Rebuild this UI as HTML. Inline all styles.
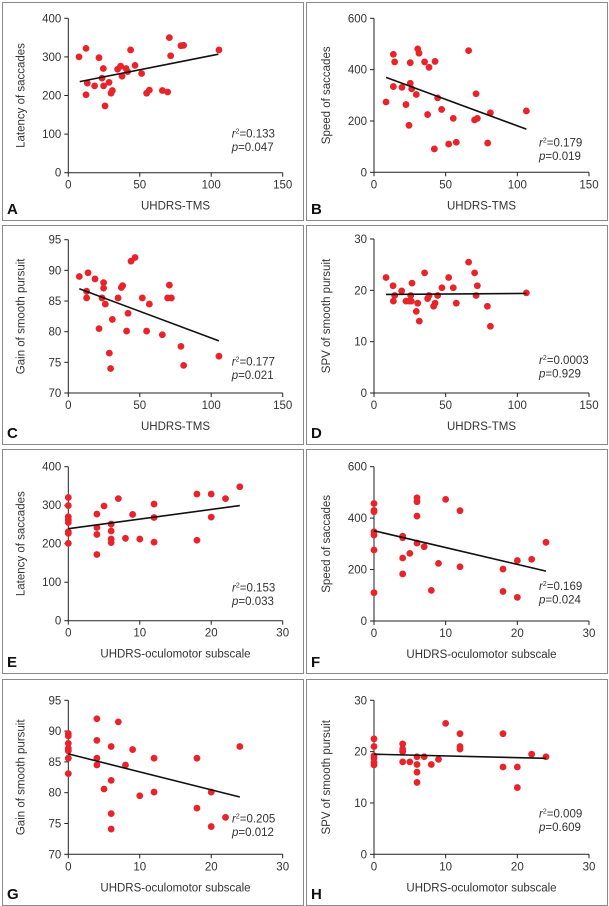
<!DOCTYPE html>
<html><head><meta charset="utf-8"><style>
body{margin:0;background:#fff;}
svg{display:block;font-family:"Liberation Sans",Arial,sans-serif;}
</style></head><body>
<svg id="fig" width="609" height="906" viewBox="0 0 609 906"></svg>
<script>
// Panel data
const tmsA=[7.5,12.4,13.3,12.4,18.4,21.5,23.6,24.5,24.7,25.7,28.5,29.9,30.8,34.5,36.6,37.6,40.4,41.5,43.6,46.7,51.3,54.8,56.7,65.8,69.5,70.7,71.6,78.8,80.7,105.4];
const latA=[300,322,232,202,225,298,245,270,225,173,234,206,213,268,276,250,270,262,318,278,257,206,214,213,209,350,303,329,330,318];
const fitA=[8,236,105,307];
const tmsB=[8.4,13.5,13.5,14.4,19.5,22.3,24.4,25.3,25.3,26.3,29.5,30.5,31.4,35.3,37.4,38.4,42.1,42.6,44.4,47.2,52.1,55.3,57.4,66,70.2,71.2,72.1,79.3,81.2,106.3];
const spdB=[274,460,334,430,331,264,183,427,347,325,303,481,464,430,225,409,91,432,290,245,110,210,117,474,204,306,210,114,232,239];
const fitB=[8.4,370,106.3,168];
const tmsC=[7.7,13.8,12.8,12.8,18.7,21.5,23.6,24.7,24.7,25.9,28.7,29.6,30.8,34.8,37.1,38.0,40.8,41.8,43.9,46.7,51.8,54.8,56.7,65.8,69.5,70.7,72.1,78.8,80.7,105.4];
const gainC=[89.0,89.6,86.6,85.5,88.6,80.5,85.5,88.0,87.1,84.5,76.5,74.0,82.0,85.5,87.2,87.5,80.1,83.0,91.5,92.1,85.5,80.1,84.5,79.5,85.5,87.6,85.5,77.6,74.5,76.0];
const fitC=[7.7,87.0,105.4,78.5];
const tmsD=[8.4,13.3,13.5,14.4,19.3,22.3,24.7,25.6,26.5,26,29.5,30.5,31.6,35.3,37.4,38.4,41.6,42.6,44.4,47.4,52.1,55.3,57.4,66,70.2,71.2,72.1,79.1,81.2,106.3];
const spvD=[22.5,20.9,17.9,19.0,19.9,17.9,17.9,19.0,21.4,17.9,15.9,17.5,14.0,23.4,18.4,19.0,16.9,17.5,19.0,20.5,22.5,20.5,17.5,25.5,23.4,19.0,20.9,16.9,13.0,19.5];
const fitD=[8.4,19.2,106.3,19.4];
const ocuE=[0,0,0,0,0,0,0,0,4,4,4,4,5,6,6,6,6,7,8,9,10,12,12,12,18,18,20,20,22,24];
const latE=[320,299,270,262,255,231,227,201,277,242,224,172,298,251,233,212,203,317,214,276,212,303,268,204,329,209,329,269,317,348];
const fitE=[0,239,24,299];
const ocuF=[0,0,0,0,0,0,0,4,4,4,4,5,6,6,6,6,7,8,9,10,12,12,18,18,20,20,22,24];
const spdF=[457,430,425,347,334,276,110,330,324,245,183,263,479,464,408,303,289,119,224,473,429,211,202,115,235,92,240,306];
const fitF=[0,351,24,194];
const ocuG=[0,0,0,0,0,0,0,4,4,4,4,5,6,6,6,6,7,8,9,10,12,12,18,18,20,20,22,24];
const gainG=[89.6,89.2,88.0,87.2,86.8,85.6,83.1,92.0,88.5,85.6,84.5,80.6,87.5,82.0,76.6,74.1,91.5,84.5,87.0,79.5,85.6,80.1,85.6,77.5,80.1,74.5,76.0,87.5];
const fitG=[0,86.3,24,79.3];
const ocuH=[0,0,0,0,0,0,4,4,4,4,5,6,6,6,6,7,8,9,10,12,12,12,18,18,20,20,22,24];
const spvH=[22.5,21.0,19.2,18.7,17.9,17.4,21.5,20.5,20.0,18.0,18.0,19.0,17.5,16.0,14.0,19.0,17.5,18.5,25.5,23.5,21.0,20.5,23.5,17.0,17.0,13.0,19.5,19.0];
const fitH=[0,19.5,24,18.7];
const xTicksTMS=[0,50,100,150];
const xTicksOcu=[0,10,20,30];
const yTicksLat=[0,100,200,300,400];
const yTicksSpd=[0,200,400,600];
const yTicksGain=[70,75,80,85,90,95];
const yTicksSpv=[0,10,20,30];

const NS='http://www.w3.org/2000/svg';
const svg=document.getElementById('fig');
function mk(tag,attrs,parent){const e=document.createElementNS(NS,tag);for(const k in attrs)e.setAttribute(k,attrs[k]);(parent||svg).appendChild(e);return e;}

function panel(o){
  const g=mk('g',{});
  
  
  const b=mk('rect',{x:o.box[0]+0.5,y:o.box[1]+0.5,width:o.box[2]-o.box[0],height:o.box[3]-o.box[1],fill:'none',stroke:'#8a8a8a','stroke-width':1},g);
  
  
  const xmin=o.xt[0],xmax=o.xt[o.xt.length-1],ymin=o.yt[0],ymax=o.yt[o.yt.length-1];
  const X=v=>o.x0+(v-xmin)/(xmax-xmin)*(o.x1-o.x0);
  const Y=v=>o.y0-(v-ymin)/(ymax-ymin)*(o.y0-o.y1);
  const ax=mk('path',{d:`M${o.x0},${o.y1}V${o.y0}H${o.x1}`,fill:'none',stroke:'#222','stroke-width':1},g);
  
  
  o.yt.forEach(t=>{
    mk('line',{x1:o.x0-4,x2:o.x0,y1:Y(t),y2:Y(t),stroke:'#222'},g);
    const tx=mk('text',{x:o.x0-7,y:Y(t)+4,'text-anchor':'end','font-size':11.5,fill:'#333'},g);
    tx.textContent=t;
    
    
  });
  o.xt.forEach(t=>{
    mk('line',{x1:X(t),x2:X(t),y1:o.y0,y2:o.y0+4,stroke:'#222'},g);
    const tx=mk('text',{x:X(t),y:o.y0+16,'text-anchor':'middle','font-size':11.5,fill:'#333'},g);
    tx.textContent=t;
    
    
  });
  const xtl=mk('text',{x:(o.x0+o.x1)/2,y:o.y0+37,'text-anchor':'middle','font-size':11.5,fill:'#333'},g);
  xtl.textContent=o.xlabel;
  
  
  const cy=(o.y0+o.y1)/2, cx=o.x0-44;
  const ytl=mk('text',{x:cx,y:cy,'text-anchor':'middle','font-size':11.5,fill:'#333',transform:`rotate(-90 ${cx} ${cy})`},g);
  ytl.textContent=o.ylabel;
  
  
  const lt=mk('text',{x:o.box[0]+5,y:o.box[3]-6,'font-size':15,'font-weight':'bold',fill:'#111'},g);
  lt.textContent=o.letter;
  
  
  o.xs.forEach((v,i)=>{
    const c=mk('circle',{cx:X(v),cy:Y(o.ys[i]),r:3.4,fill:'#e8232a'},g);
    
    
  });
  const fl=mk('line',{x1:X(o.fit[0]),y1:Y(o.fit[1]),x2:X(o.fit[2]),y2:Y(o.fit[3]),stroke:'#111','stroke-width':1.6},g);
  
  
  const r=mk('text',{x:o.st[0],y:o.st[1],'font-size':11.5,fill:'#333'},g);
  r.innerHTML='<tspan font-style="italic">r</tspan><tspan font-size="7" dy="-4">2</tspan><tspan dy="4">='+o.r2+'</tspan>';
  
  
  const p=mk('text',{x:o.st[0],y:o.st[1]+13.5,'font-size':11.5,fill:'#333'},g);
  p.innerHTML='<tspan font-style="italic">p</tspan>='+o.p;
  
  
}
const L={x0:68.3,x1:282.7}, R={x0:374,x1:589};
panel({letter:'A',box:[2,2,303,220],...L,y0:172.7,y1:18.3,xt:xTicksTMS,yt:yTicksLat,xs:tmsA,ys:latA,fit:fitA,xlabel:'UHDRS-TMS',ylabel:'Latency of saccades',r2:'0.133',p:'0.047',st:[231.7,137.3]});
panel({letter:'B',box:[306,2,607,220],...R,y0:172.3,y1:18.3,xt:xTicksTMS,yt:yTicksSpd,xs:tmsB,ys:spdB,fit:fitB,xlabel:'UHDRS-TMS',ylabel:'Speed of saccades',r2:'0.179',p:'0.019',st:[539,146.7]});
panel({letter:'C',box:[2,225,303,444],...L,y0:393,y1:239.7,xt:xTicksTMS,yt:yTicksGain,xs:tmsC,ys:gainC,fit:fitC,xlabel:'UHDRS-TMS',ylabel:'Gain of smooth pursuit',r2:'0.177',p:'0.021',st:[231.7,365.3]});
panel({letter:'D',box:[306,225,607,444],...R,y0:393,y1:239,xt:xTicksTMS,yt:yTicksSpv,xs:tmsD,ys:spvD,fit:fitD,xlabel:'UHDRS-TMS',ylabel:'SPV of smooth pursuit',r2:'0.0003',p:'0.929',st:[539,364]});
panel({letter:'E',box:[2,449,303,673],...L,y0:620.7,y1:466.7,xt:xTicksOcu,yt:yTicksLat,xs:ocuE,ys:latE,fit:fitE,xlabel:'UHDRS-oculomotor subscale',ylabel:'Latency of saccades',r2:'0.153',p:'0.033',st:[232,591.7]});
panel({letter:'F',box:[306,449,607,673],...R,y0:621,y1:466.7,xt:xTicksOcu,yt:yTicksSpd,xs:ocuF,ys:spdF,fit:fitF,xlabel:'UHDRS-oculomotor subscale',ylabel:'Speed of saccades',r2:'0.169',p:'0.024',st:[539,590]});
panel({letter:'G',box:[2,679,303,905],...L,y0:854.3,y1:700.3,xt:xTicksOcu,yt:yTicksGain,xs:ocuG,ys:gainG,fit:fitG,xlabel:'UHDRS-oculomotor subscale',ylabel:'Gain of smooth pursuit',r2:'0.205',p:'0.012',st:[232,822.7]});
panel({letter:'H',box:[306,679,607,905],...R,y0:854.3,y1:700.3,xt:xTicksOcu,yt:yTicksSpv,xs:ocuH,ys:spvH,fit:fitH,xlabel:'UHDRS-oculomotor subscale',ylabel:'SPV of smooth pursuit',r2:'0.009',p:'0.609',st:[539,817.7]});
</script>
</body></html>
